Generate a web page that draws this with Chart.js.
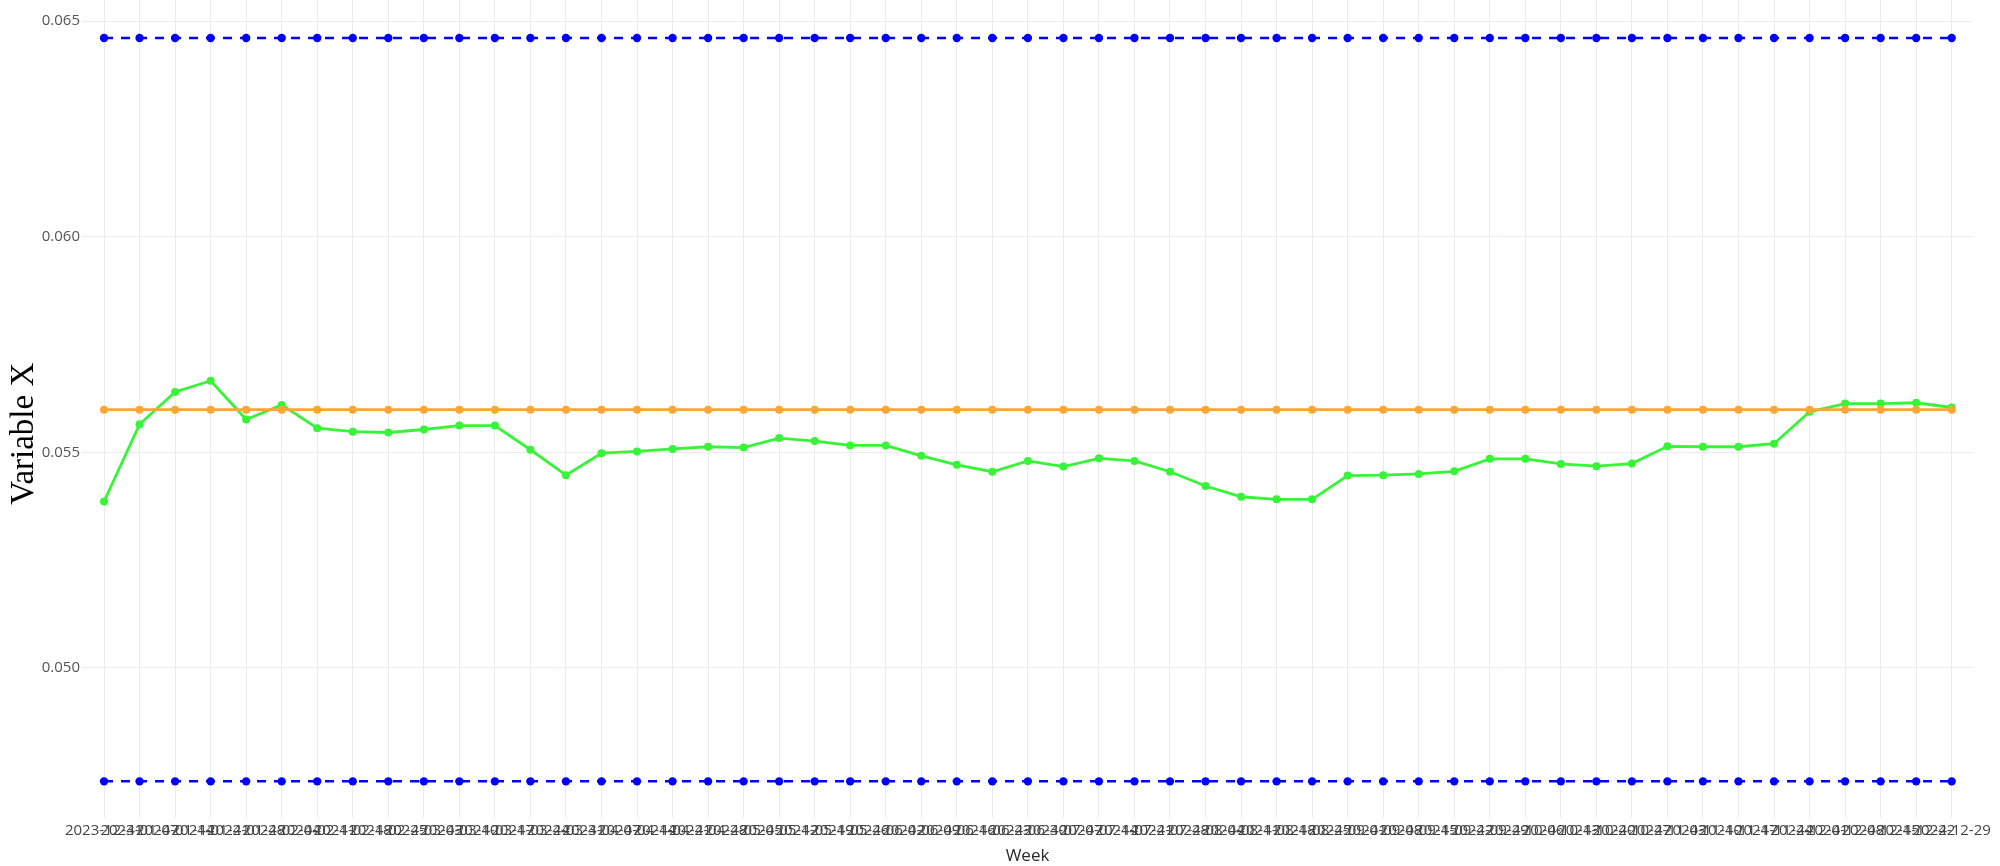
<!DOCTYPE html>
<html>
<head>
<meta charset="utf-8">
<script src="https://cdn.jsdelivr.net/npm/chart.js@4/dist/chart.umd.min.js"></script>
<style>
  html, body { margin: 0; padding: 0; background: #fff; }
  canvas { display: block; }
</style>
</head>
<body>
<canvas id="chart" width="2000" height="866"></canvas>
<script>
// weekly data
const weeks = [
  "2023-12-31", "2024-01-07", "2024-01-14", "2024-01-21", "2024-01-28",
  "2024-02-04", "2024-02-11", "2024-02-18", "2024-02-25",
  "2024-03-03", "2024-03-10", "2024-03-17", "2024-03-24", "2024-03-31",
  "2024-04-07", "2024-04-14", "2024-04-21", "2024-04-28",
  "2024-05-05", "2024-05-12", "2024-05-19", "2024-05-26",
  "2024-06-02", "2024-06-09", "2024-06-16", "2024-06-23", "2024-06-30",
  "2024-07-07", "2024-07-14", "2024-07-21", "2024-07-28",
  "2024-08-04", "2024-08-11", "2024-08-18", "2024-08-25",
  "2024-09-01", "2024-09-08", "2024-09-15", "2024-09-22", "2024-09-29",
  "2024-10-06", "2024-10-13", "2024-10-20", "2024-10-27",
  "2024-11-03", "2024-11-10", "2024-11-17", "2024-11-24",
  "2024-12-01", "2024-12-08", "2024-12-15", "2024-12-22", "2024-12-29"
];

const variableX = [
  0.05386, 0.05565, 0.05640, 0.05666, 0.05576, 0.05610, 0.05556, 0.05548, 0.05546, 0.05553,
  0.05562, 0.05562, 0.05506, 0.05447, 0.05498, 0.05502, 0.05508, 0.05513, 0.05511, 0.05533,
  0.05526, 0.05516, 0.05516, 0.05492, 0.05471, 0.05455, 0.05480, 0.05467, 0.05486, 0.05480,
  0.05455, 0.05422, 0.05397, 0.05391, 0.05391, 0.05446, 0.05447, 0.05450, 0.05456, 0.05485,
  0.05485, 0.05473, 0.05468, 0.05474, 0.05514, 0.05513, 0.05513, 0.05520, 0.05594, 0.05613,
  0.05613, 0.05615, 0.05604
];

const center = weeks.map(() => 0.05599);
const upper = weeks.map(() => 0.06461);
const lower = weeks.map(() => 0.04737);

const yTicks = [0.050, 0.055, 0.060, 0.065];

const toPoints = arr => arr.map((v, i) => ({ x: i, y: v }));

const ctx = document.getElementById("chart").getContext("2d");

new Chart(ctx, {
  type: "line",
  data: {
    datasets: [
      {
        label: "UCL",
        data: toPoints(upper),
        borderColor: "#0000ff",
        backgroundColor: "#0000ff",
        borderWidth: 2.5,
        borderDash: [9, 8],
        pointRadius: 4.2,
        pointBorderWidth: 0,
        order: 1
      },
      {
        label: "LCL",
        data: toPoints(lower),
        borderColor: "#0000ff",
        backgroundColor: "#0000ff",
        borderWidth: 2.5,
        borderDash: [9, 8],
        pointRadius: 4.2,
        pointBorderWidth: 0,
        order: 1
      },
      {
        label: "Mean",
        data: toPoints(center),
        borderColor: "#ffa533",
        backgroundColor: "#ffa533",
        borderWidth: 2.8,
        pointRadius: 4,
        pointBorderWidth: 0,
        order: 2
      },
      {
        label: "Variable X",
        data: toPoints(variableX),
        borderColor: "#36f536",
        backgroundColor: "#36f536",
        borderWidth: 2.8,
        pointRadius: 4,
        pointBorderWidth: 0,
        order: 3
      }
    ]
  },
  options: {
    responsive: false,
    animation: false,
    layout: { autoPadding: false, padding: { top: 0, right: 27, left: 0, bottom: 0 } },
    plugins: {
      legend: { display: false },
      tooltip: { enabled: false }
    },
    scales: {
      x: {
        type: "linear",
        min: -0.62,
        max: 52.6,
        afterBuildTicks: axis => {
          axis.ticks = weeks.map((_, i) => ({ value: i }));
        },
        afterFit: scale => { scale.height = 48; },
        grid: { color: "#ebebeb", lineWidth: 1, drawTicks: false },
        border: { display: false },
        ticks: {
          autoSkip: false,
          maxRotation: 0,
          minRotation: 0,
          padding: 4,
          color: "#444",
          font: { family: "Open Sans", size: 15 },
          callback: v => weeks[v] ?? ""
        },
        title: {
          display: true,
          text: "Week",
          color: "#2a2a2a",
          padding: { top: 0, bottom: 0 },
          font: { family: "Open Sans", size: 17 }
        }
      },
      y: {
        min: 0.04652,
        max: 0.06549,
        afterBuildTicks: axis => {
          axis.ticks = yTicks.map(v => ({ value: v }));
        },
        afterFit: scale => {
          scale.width = 82;
          scale.paddingTop = 0;
          scale.paddingBottom = 0;
        },
        grid: { color: "#ebebeb", lineWidth: 1, drawTicks: false },
        border: { display: false },
        ticks: {
          padding: 2,
          color: "#555",
          font: { family: "Open Sans", size: 15 },
          callback: v => v.toFixed(3)
        },
        title: {
          display: true,
          text: "Variable X      ",
          color: "#000",
          padding: { top: 5, bottom: 0 },
          font: { family: "Liberation Serif", size: 33 }
        }
      }
    }
  }
});
</script>
</body>
</html>
